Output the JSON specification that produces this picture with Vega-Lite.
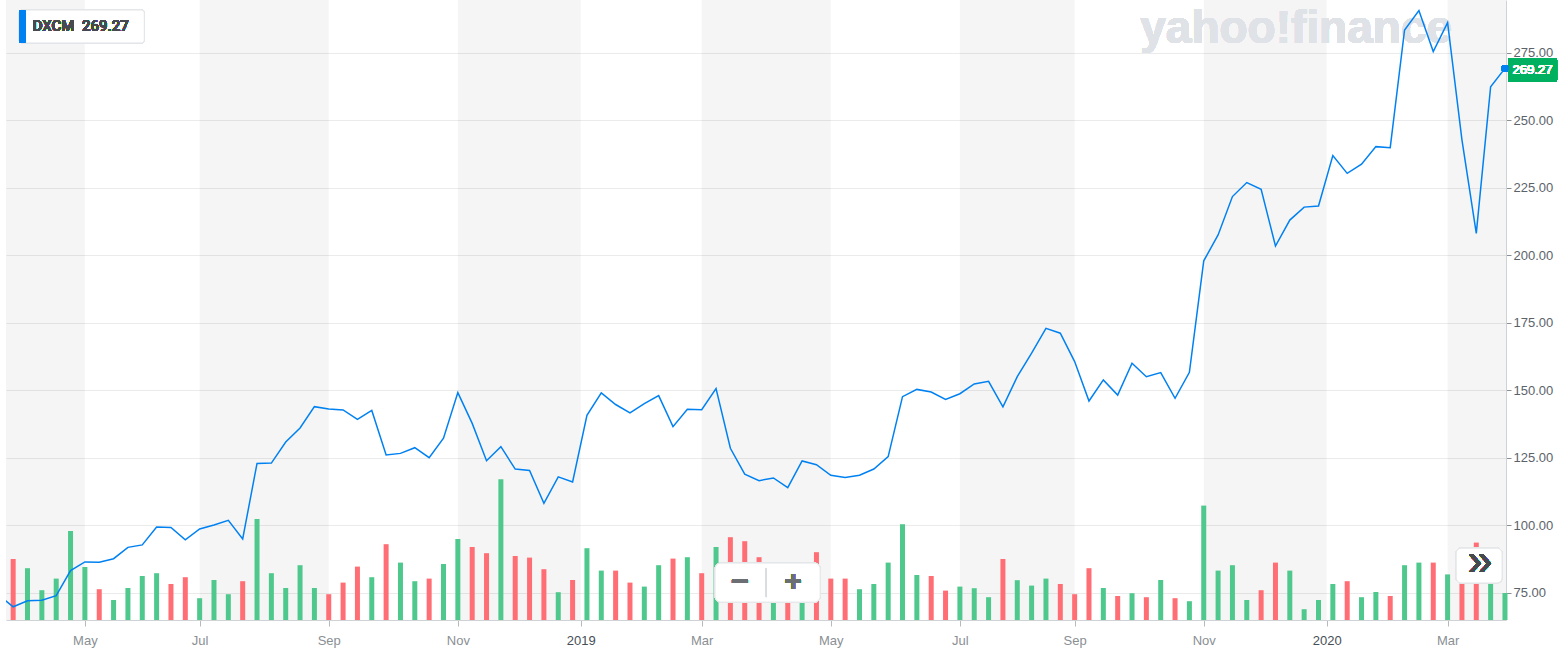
{
  "$schema": "https://vega.github.io/schema/vega-lite/v6.json",
  "width": 1500,
  "height": 620,
  "autosize": {"type": "none"},
  "padding": {"left": 6, "top": 0, "right": 61, "bottom": 40},
  "background": "white",
  "config": {
    "view": {"stroke": null},
    "font": "Liberation Sans",
    "scale": {"continuousPadding": 0}
  },
  "datasets": {
    "weekly": [
      {"date": "2018-03-19", "close": 74.2},
      {"date": "2018-03-26", "close": 69.9, "volume": 3.05, "dir": "down"},
      {"date": "2018-04-02", "close": 72.1, "volume": 2.59, "dir": "up"},
      {"date": "2018-04-09", "close": 72.3, "volume": 1.49, "dir": "up"},
      {"date": "2018-04-16", "close": 74.0, "volume": 2.07, "dir": "up"},
      {"date": "2018-04-23", "close": 83.3, "volume": 4.45, "dir": "up"},
      {"date": "2018-04-30", "close": 86.5, "volume": 2.65, "dir": "up"},
      {"date": "2018-05-07", "close": 86.4, "volume": 1.54, "dir": "down"},
      {"date": "2018-05-14", "close": 87.7, "volume": 1.0, "dir": "up"},
      {"date": "2018-05-21", "close": 91.9, "volume": 1.6, "dir": "up"},
      {"date": "2018-05-28", "close": 92.8, "volume": 2.2, "dir": "up"},
      {"date": "2018-06-04", "close": 99.4, "volume": 2.34, "dir": "up"},
      {"date": "2018-06-11", "close": 99.3, "volume": 1.8, "dir": "down"},
      {"date": "2018-06-18", "close": 94.7, "volume": 2.14, "dir": "down"},
      {"date": "2018-06-25", "close": 98.7, "volume": 1.09, "dir": "up"},
      {"date": "2018-07-02", "close": 100.2, "volume": 2.0, "dir": "up"},
      {"date": "2018-07-09", "close": 101.9, "volume": 1.29, "dir": "up"},
      {"date": "2018-07-16", "close": 95.0, "volume": 1.94, "dir": "down"},
      {"date": "2018-07-23", "close": 123.0, "volume": 5.05, "dir": "up"},
      {"date": "2018-07-30", "close": 123.1, "volume": 2.34, "dir": "up"},
      {"date": "2018-08-06", "close": 130.9, "volume": 1.6, "dir": "up"},
      {"date": "2018-08-13", "close": 136.1, "volume": 2.74, "dir": "up"},
      {"date": "2018-08-20", "close": 144.0, "volume": 1.6, "dir": "up"},
      {"date": "2018-08-27", "close": 143.1, "volume": 1.29, "dir": "down"},
      {"date": "2018-09-03", "close": 142.8, "volume": 1.87, "dir": "down"},
      {"date": "2018-09-10", "close": 139.3, "volume": 2.67, "dir": "down"},
      {"date": "2018-09-17", "close": 142.6, "volume": 2.14, "dir": "up"},
      {"date": "2018-09-24", "close": 126.1, "volume": 3.79, "dir": "down"},
      {"date": "2018-10-01", "close": 126.7, "volume": 2.87, "dir": "up"},
      {"date": "2018-10-08", "close": 128.8, "volume": 1.94, "dir": "up"},
      {"date": "2018-10-15", "close": 125.1, "volume": 2.07, "dir": "down"},
      {"date": "2018-10-22", "close": 132.3, "volume": 2.8, "dir": "up"},
      {"date": "2018-10-29", "close": 149.2, "volume": 4.05, "dir": "up"},
      {"date": "2018-11-05", "close": 137.8, "volume": 3.65, "dir": "down"},
      {"date": "2018-11-12", "close": 124.0, "volume": 3.34, "dir": "down"},
      {"date": "2018-11-19", "close": 129.2, "volume": 7.04, "dir": "up"},
      {"date": "2018-11-26", "close": 120.9, "volume": 3.2, "dir": "down"},
      {"date": "2018-12-03", "close": 120.4, "volume": 3.12, "dir": "down"},
      {"date": "2018-12-10", "close": 108.2, "volume": 2.54, "dir": "down"},
      {"date": "2018-12-17", "close": 118.0, "volume": 1.39, "dir": "up"},
      {"date": "2018-12-24", "close": 116.1, "volume": 2.0, "dir": "down"},
      {"date": "2018-12-31", "close": 140.8, "volume": 3.59, "dir": "up"},
      {"date": "2019-01-07", "close": 149.1, "volume": 2.47, "dir": "up"},
      {"date": "2019-01-14", "close": 144.8, "volume": 2.47, "dir": "down"},
      {"date": "2019-01-21", "close": 141.7, "volume": 1.87, "dir": "down"},
      {"date": "2019-01-28", "close": 145.1, "volume": 1.67, "dir": "up"},
      {"date": "2019-02-04", "close": 148.1, "volume": 2.74, "dir": "up"},
      {"date": "2019-02-11", "close": 136.6, "volume": 3.07, "dir": "down"},
      {"date": "2019-02-18", "close": 143.0, "volume": 3.14, "dir": "up"},
      {"date": "2019-02-25", "close": 142.9, "volume": 2.34, "dir": "down"},
      {"date": "2019-03-04", "close": 150.7, "volume": 3.65, "dir": "up"},
      {"date": "2019-03-11", "close": 128.6, "volume": 4.14, "dir": "down"},
      {"date": "2019-03-18", "close": 119.0, "volume": 3.94, "dir": "down"},
      {"date": "2019-03-25", "close": 116.6, "volume": 3.14, "dir": "down"},
      {"date": "2019-04-01", "close": 117.6, "volume": 2.0, "dir": "up"},
      {"date": "2019-04-08", "close": 114.0, "volume": 1.34, "dir": "down"},
      {"date": "2019-04-15", "close": 123.9, "volume": 2.04, "dir": "up"},
      {"date": "2019-04-22", "close": 122.5, "volume": 3.39, "dir": "down"},
      {"date": "2019-04-29", "close": 118.6, "volume": 2.07, "dir": "down"},
      {"date": "2019-05-06", "close": 117.8, "volume": 2.07, "dir": "down"},
      {"date": "2019-05-13", "close": 118.6, "volume": 1.54, "dir": "up"},
      {"date": "2019-05-20", "close": 120.9, "volume": 1.8, "dir": "up"},
      {"date": "2019-05-27", "close": 125.5, "volume": 2.87, "dir": "up"},
      {"date": "2019-06-03", "close": 147.7, "volume": 4.79, "dir": "up"},
      {"date": "2019-06-10", "close": 150.4, "volume": 2.25, "dir": "up"},
      {"date": "2019-06-17", "close": 149.4, "volume": 2.2, "dir": "down"},
      {"date": "2019-06-24", "close": 146.7, "volume": 1.47, "dir": "down"},
      {"date": "2019-07-01", "close": 148.8, "volume": 1.67, "dir": "up"},
      {"date": "2019-07-08", "close": 152.4, "volume": 1.59, "dir": "up"},
      {"date": "2019-07-15", "close": 153.4, "volume": 1.14, "dir": "up"},
      {"date": "2019-07-22", "close": 143.9, "volume": 3.05, "dir": "down"},
      {"date": "2019-07-29", "close": 155.1, "volume": 1.99, "dir": "up"},
      {"date": "2019-08-05", "close": 163.8, "volume": 1.72, "dir": "up"},
      {"date": "2019-08-12", "close": 173.0, "volume": 2.07, "dir": "up"},
      {"date": "2019-08-19", "close": 171.2, "volume": 1.8, "dir": "down"},
      {"date": "2019-08-26", "close": 160.7, "volume": 1.29, "dir": "down"},
      {"date": "2019-09-02", "close": 146.1, "volume": 2.59, "dir": "down"},
      {"date": "2019-09-09", "close": 153.9, "volume": 1.6, "dir": "up"},
      {"date": "2019-09-16", "close": 148.3, "volume": 1.2, "dir": "down"},
      {"date": "2019-09-23", "close": 160.1, "volume": 1.34, "dir": "up"},
      {"date": "2019-09-30", "close": 155.1, "volume": 1.14, "dir": "down"},
      {"date": "2019-10-07", "close": 156.6, "volume": 2.0, "dir": "up"},
      {"date": "2019-10-14", "close": 147.1, "volume": 1.09, "dir": "down"},
      {"date": "2019-10-21", "close": 156.7, "volume": 0.94, "dir": "up"},
      {"date": "2019-10-28", "close": 198.0, "volume": 5.72, "dir": "up"},
      {"date": "2019-11-04", "close": 207.6, "volume": 2.47, "dir": "up"},
      {"date": "2019-11-11", "close": 221.8, "volume": 2.74, "dir": "up"},
      {"date": "2019-11-18", "close": 227.0, "volume": 1.0, "dir": "up"},
      {"date": "2019-11-25", "close": 224.5, "volume": 1.49, "dir": "down"},
      {"date": "2019-12-02", "close": 203.5, "volume": 2.87, "dir": "down"},
      {"date": "2019-12-09", "close": 213.1, "volume": 2.47, "dir": "up"},
      {"date": "2019-12-16", "close": 217.9, "volume": 0.54, "dir": "up"},
      {"date": "2019-12-23", "close": 218.3, "volume": 1.0, "dir": "up"},
      {"date": "2019-12-30", "close": 237.0, "volume": 1.8, "dir": "up"},
      {"date": "2020-01-06", "close": 230.4, "volume": 1.94, "dir": "down"},
      {"date": "2020-01-13", "close": 233.8, "volume": 1.14, "dir": "up"},
      {"date": "2020-01-20", "close": 240.3, "volume": 1.4, "dir": "up"},
      {"date": "2020-01-27", "close": 239.9, "volume": 1.2, "dir": "down"},
      {"date": "2020-02-03", "close": 283.5, "volume": 2.74, "dir": "up"},
      {"date": "2020-02-10", "close": 290.7, "volume": 2.87, "dir": "up"},
      {"date": "2020-02-17", "close": 275.5, "volume": 2.87, "dir": "down"},
      {"date": "2020-02-24", "close": 286.2, "volume": 2.28, "dir": "up"},
      {"date": "2020-03-02", "close": 242.8, "volume": 3.25, "dir": "down"},
      {"date": "2020-03-09", "close": 208.2, "volume": 3.87, "dir": "down"},
      {"date": "2020-03-16", "close": 262.5, "volume": 2.87, "dir": "up"},
      {"date": "2020-03-23", "close": 269.27, "volume": 1.35, "dir": "up"}
    ],
    "bands": [
      {"start": "2018-03-15", "end": "2018-04-30"},
      {"start": "2018-06-25", "end": "2018-08-27"},
      {"start": "2018-10-29", "end": "2018-12-28"},
      {"start": "2019-02-25", "end": "2019-04-29"},
      {"start": "2019-07-01", "end": "2019-08-26"},
      {"start": "2019-10-28", "end": "2019-12-27"},
      {"start": "2020-02-24", "end": "2020-03-31"}
    ]
  },
  "layer": [
    {
      "data": {"name": "bands"},
      "mark": {"type": "rect", "fill": "#000000", "opacity": 0.04, "clip": true},
      "encoding": {
        "x": {
          "field": "start",
          "type": "temporal",
          "title": null,
          "scale": {"type": "utc", "padding": 0, "domain": [{"year": 2018, "month": 3, "date": 22, "hours": 12, "utc": true}, {"year": 2020, "month": 3, "date": 23, "hours": 12, "utc": true}]},
          "axis": {
            "title": null,
            "grid": false,
            "values": [
              {"year": 2018, "month": 4, "date": 30, "utc": true},
              {"year": 2018, "month": 6, "date": 25, "utc": true},
              {"year": 2018, "month": 8, "date": 27, "utc": true},
              {"year": 2018, "month": 10, "date": 29, "utc": true},
              {"year": 2018, "month": 12, "date": 28, "utc": true},
              {"year": 2019, "month": 2, "date": 25, "utc": true},
              {"year": 2019, "month": 4, "date": 29, "utc": true},
              {"year": 2019, "month": 7, "date": 1, "utc": true},
              {"year": 2019, "month": 8, "date": 26, "utc": true},
              {"year": 2019, "month": 10, "date": 28, "utc": true},
              {"year": 2019, "month": 12, "date": 27, "utc": true},
              {"year": 2020, "month": 2, "date": 24, "utc": true}
            ],
            "labelExpr": "utcFormat(time(datum.value) + 518400000, '%m') == '01' ? utcFormat(time(datum.value) + 518400000, '%Y') : utcFormat(time(datum.value) + 518400000, '%b')",
            "labelColor": {"condition": {"test": "utcFormat(time(datum.value) + 518400000, '%m') == '01'", "value": "#464e56"}, "value": "#8a8f94"},
            "labelFontSize": 13,
            "labelPadding": 8,
            "labelFlush": false,
            "labelOverlap": false,
            "domainColor": "#cfd3d6",
            "tickColor": "#b5babf",
            "tickSize": 6
          }
        },
        "x2": {"field": "end"}
      }
    },
    {
      "data": {"name": "weekly"},
      "mark": {"type": "bar", "size": 5},
      "encoding": {
        "x": {
          "field": "date",
          "type": "temporal",
          "title": null,
          "scale": {"type": "utc", "padding": 0, "domain": [{"year": 2018, "month": 3, "date": 22, "hours": 12, "utc": true}, {"year": 2020, "month": 3, "date": 23, "hours": 12, "utc": true}]}
        },
        "y": {
          "field": "volume",
          "type": "quantitative",
          "scale": {"domain": [0, 31], "nice": false, "padding": 0},
          "axis": null
        },
        "color": {
          "field": "dir",
          "type": "nominal",
          "scale": {"domain": ["up", "down"], "range": ["#4ec88c", "#ff6e74"]},
          "legend": null
        }
      }
    },
    {
      "data": {"name": "weekly"},
      "layer": [
        {
          "mark": {"type": "text", "text": "yahoo!finance", "align": "left", "baseline": "alphabetic", "fontSize": 46, "fontWeight": "bold", "fill": "#dfe3e8"},
          "encoding": {
            "x": {"datum": {"year": 2019, "month": 9, "date": 27, "utc": true}, "type": "temporal", "title": null},
            "y": {"datum": 278.7, "type": "quantitative", "title": null}
          }
        },
        {
          "mark": {"type": "line", "stroke": "#0081f2", "strokeWidth": 1.5, "clip": true},
          "encoding": {
            "x": {"field": "date", "type": "temporal", "title": null},
            "y": {
              "field": "close",
              "type": "quantitative",
              "title": null,
              "scale": {"domain": [65, 294.6], "nice": false, "zero": false, "padding": 0},
              "axis": {
                "orient": "right",
                "title": null,
                "values": [75, 100, 125, 150, 175, 200, 225, 250, 275],
                "format": ".2f",
                "grid": true,
                "gridColor": "#ebebeb",
                "domainColor": "#cfd3d6",
                "tickColor": "#8a8f94",
                "tickSize": 5,
                "labelPadding": 2,
                "labelFontSize": 13,
                "labelColor": "#5b636a"
              }
            }
          }
        },
        {
          "mark": {"type": "rect", "fill": "white", "stroke": "#e3e5e8", "strokeWidth": 1, "cornerRadius": 3},
          "encoding": {
            "x": {"datum": {"year": 2018, "month": 3, "date": 29, "utc": true}, "type": "temporal", "title": null},
            "x2": {"datum": {"year": 2018, "month": 5, "date": 29, "utc": true}},
            "y": {"datum": 290.9, "type": "quantitative", "title": null},
            "y2": {"datum": 278.7}
          }
        },
        {
          "mark": {"type": "rect", "fill": "#0081f2", "cornerRadius": 2},
          "encoding": {
            "x": {"datum": {"year": 2018, "month": 3, "date": 29, "utc": true}, "type": "temporal", "title": null},
            "x2": {"datum": {"year": 2018, "month": 4, "date": 1, "utc": true}},
            "y": {"datum": 290.9, "type": "quantitative", "title": null},
            "y2": {"datum": 278.7}
          }
        },
        {
          "mark": {"type": "text", "text": "DXCM\u00a0 269.27", "align": "left", "baseline": "middle", "font": "Roboto", "fontSize": 15, "fontWeight": 500, "fill": "#464a4f"},
          "encoding": {
            "x": {"datum": {"year": 2018, "month": 4, "date": 4, "hours": 12, "utc": true}, "type": "temporal", "title": null},
            "y": {"datum": 284.8, "type": "quantitative", "title": null}
          }
        },
        {
          "mark": {"type": "rect", "fill": "#00b061", "cornerRadius": 2},
          "encoding": {
            "x": {"datum": {"year": 2020, "month": 3, "date": 24, "hours": 12, "utc": true}, "type": "temporal", "title": null},
            "x2": {"datum": {"year": 2020, "month": 4, "date": 17, "hours": 10, "utc": true}},
            "y": {"datum": 273.1, "type": "quantitative", "title": null},
            "y2": {"datum": 264.2}
          }
        },
        {
          "mark": {"type": "text", "text": "269.27", "align": "center", "baseline": "middle", "fontSize": 13, "fill": "white"},
          "encoding": {
            "x": {"datum": {"year": 2020, "month": 4, "date": 5, "hours": 10, "utc": true}, "type": "temporal", "title": null},
            "y": {"datum": 268.7, "type": "quantitative", "title": null}
          }
        },
        {
          "mark": {"type": "point", "filled": true, "fill": "#0081f2", "size": 45, "opacity": 1},
          "encoding": {
            "x": {"datum": {"year": 2020, "month": 3, "date": 23, "utc": true}, "type": "temporal", "title": null},
            "y": {"datum": 269.27, "type": "quantitative", "title": null}
          }
        },
        {
          "mark": {"type": "rect", "fill": "white", "fillOpacity": 0.8, "stroke": "#e4e6e8", "strokeWidth": 1, "cornerRadius": 6},
          "encoding": {
            "x": {"datum": {"year": 2019, "month": 3, "date": 3, "hours": 12, "utc": true}, "type": "temporal", "title": null},
            "x2": {"datum": {"year": 2019, "month": 4, "date": 23, "hours": 20, "utc": true}},
            "y": {"datum": 86.1, "type": "quantitative", "title": null},
            "y2": {"datum": 71.6}
          }
        },
        {
          "mark": {"type": "rule", "stroke": "#dadcdf", "strokeWidth": 1},
          "encoding": {
            "x": {"datum": {"year": 2019, "month": 3, "date": 28, "hours": 10, "utc": true}, "type": "temporal", "title": null},
            "y": {"datum": 84.0, "type": "quantitative", "title": null},
            "y2": {"datum": 73.5}
          }
        },
        {
          "mark": {"type": "text", "text": "\u2212", "align": "center", "baseline": "middle", "fontSize": 30, "fontWeight": "bold", "fill": "#6b6e72"},
          "encoding": {
            "x": {"datum": {"year": 2019, "month": 3, "date": 15, "hours": 16, "utc": true}, "type": "temporal", "title": null},
            "y": {"datum": 78.9, "type": "quantitative", "title": null}
          }
        },
        {
          "mark": {"type": "text", "text": "+", "align": "center", "baseline": "middle", "fontSize": 30, "fontWeight": "bold", "fill": "#6b6e72"},
          "encoding": {
            "x": {"datum": {"year": 2019, "month": 4, "date": 10, "hours": 14, "utc": true}, "type": "temporal", "title": null},
            "y": {"datum": 78.9, "type": "quantitative", "title": null}
          }
        },
        {
          "mark": {"type": "rect", "fill": "white", "fillOpacity": 0.92, "stroke": "#e4e6e8", "strokeWidth": 1, "cornerRadius": 5},
          "encoding": {
            "x": {"datum": {"year": 2020, "month": 2, "date": 28, "hours": 5, "utc": true}, "type": "temporal", "title": null},
            "x2": {"datum": {"year": 2020, "month": 3, "date": 21, "hours": 14, "utc": true}},
            "y": {"datum": 91.6, "type": "quantitative", "title": null},
            "y2": {"datum": 78.7}
          }
        },
        {
          "mark": {"type": "text", "text": "\u00bb", "align": "center", "baseline": "middle", "fontSize": 44, "fontWeight": "normal", "fill": "#464a4f"},
          "encoding": {
            "x": {"datum": {"year": 2020, "month": 3, "date": 10, "hours": 20, "utc": true}, "type": "temporal", "title": null},
            "y": {"datum": 86.5, "type": "quantitative", "title": null}
          }
        }
      ]
    }
  ],
  "resolve": {"scale": {"y": "independent"}}
}
